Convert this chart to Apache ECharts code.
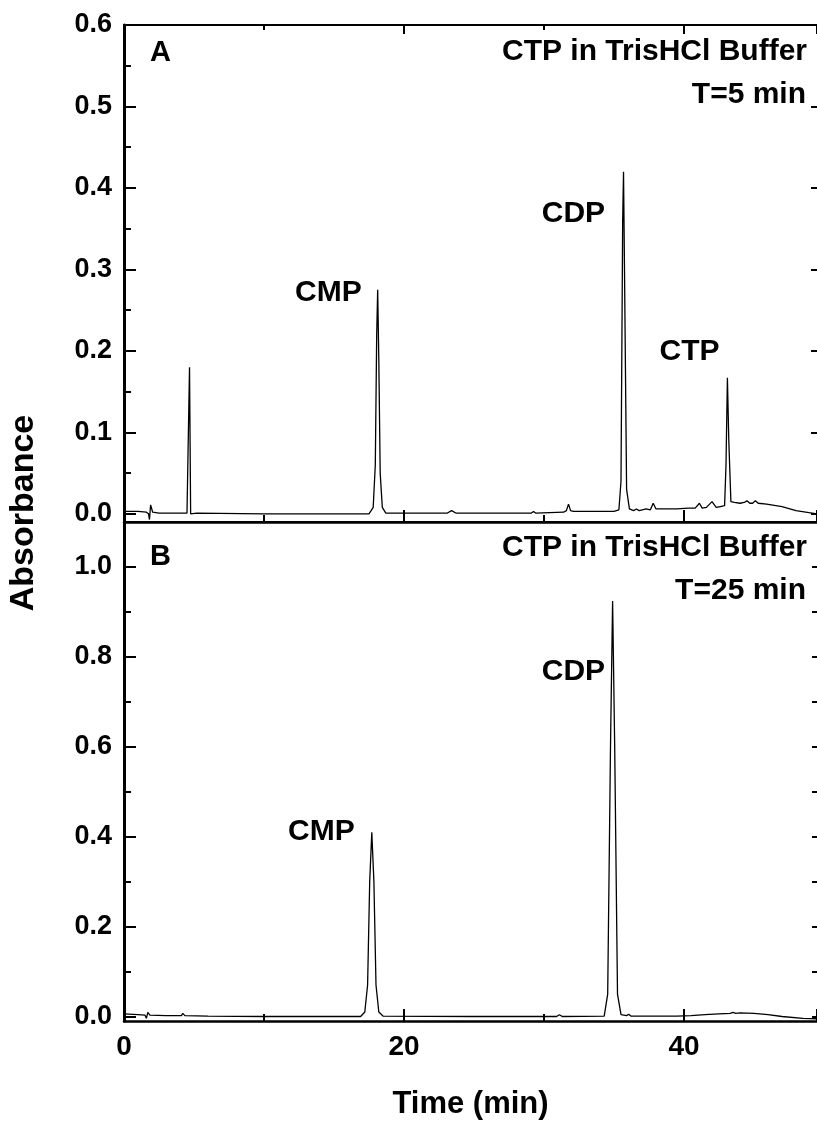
<!DOCTYPE html>
<html>
<head>
<meta charset="utf-8">
<script src="https://cdn.jsdelivr.net/npm/echarts@6/dist/echarts.min.js"></script>
<style>
  html, body { margin: 0; padding: 0; background: #fff; }
  #chart { width: 817px; height: 1130px; }
</style>
</head>
<body>
<div id="chart"></div>
<script>
// ---- Data ----
// Panel A: CTP in TrisHCl buffer, T = 5 min  ([time (min), absorbance])
const traceA = [
  [0, 0.003], [1.0, 0.003], [1.6, 0.002], [1.75, 0.0], [1.82, -0.007], [1.9, 0.011], [2.05, 0.002],
  [2.5, 0.001], [4.5, 0.001], [4.6, 0.0], [4.68, 0.18], [4.76, 0.0], [4.85, 0.001], [5.2, 0.001],
  [10, 0.0], [15, 0.0], [17.5, 0.0], [17.8, 0.008], [17.95, 0.06], [18.05, 0.22], [18.12, 0.275],
  [18.2, 0.19], [18.3, 0.05], [18.45, 0.008], [18.7, 0.001], [20, 0.001], [23.1, 0.001],
  [23.4, 0.004], [23.7, 0.001], [28, 0.001], [29.1, 0.001], [29.25, 0.003], [29.4, 0.001],
  [31.4, 0.002], [31.6, 0.004], [31.75, 0.012], [31.9, 0.004], [32.1, 0.003], [35.0, 0.003],
  [35.35, 0.005], [35.5, 0.04], [35.62, 0.36], [35.68, 0.42], [35.75, 0.3], [35.9, 0.03],
  [36.1, 0.006], [36.4, 0.004], [36.6, 0.006], [36.8, 0.004], [37.3, 0.006], [37.6, 0.005],
  [37.8, 0.013], [38.0, 0.006], [38.5, 0.006], [39.5, 0.006], [40.3, 0.007], [40.8, 0.007],
  [41.1, 0.013], [41.3, 0.007], [41.6, 0.008], [42.0, 0.015], [42.3, 0.008], [42.6, 0.009],
  [42.9, 0.01], [43.0, 0.06], [43.1, 0.167], [43.2, 0.09], [43.35, 0.015], [43.6, 0.014],
  [44.0, 0.013], [44.3, 0.014], [44.5, 0.016], [44.7, 0.013], [44.9, 0.013], [45.1, 0.016],
  [45.3, 0.013], [45.9, 0.012], [47, 0.009], [48, 0.004], [49.5, 0.0]
];
// Panel B: CTP in TrisHCl buffer, T = 25 min
const traceB = [
  [0, 0.006], [1.0, 0.004], [1.5, 0.003], [1.6, -0.004], [1.7, 0.009], [1.85, 0.003], [3, 0.002],
  [4.1, 0.002], [4.2, 0.007], [4.35, 0.002], [6, 0.001], [10, 0.0], [16.9, 0.0], [17.2, 0.01],
  [17.4, 0.07], [17.55, 0.3], [17.7, 0.41], [17.85, 0.3], [18.0, 0.07], [18.2, 0.01],
  [18.5, 0.001], [25, 0.0], [30.9, 0.0], [31.1, 0.004], [31.3, 0.0], [34.3, 0.001],
  [34.55, 0.05], [34.75, 0.6], [34.9, 0.924], [35.05, 0.6], [35.25, 0.05], [35.5, 0.004],
  [35.9, 0.002], [36.05, 0.005], [36.2, 0.001], [39.5, 0.001], [40.5, 0.002], [41.5, 0.004],
  [42.5, 0.006], [43.3, 0.007], [43.5, 0.009], [43.7, 0.007], [44.0, 0.008], [45.0, 0.007],
  [46, 0.004], [47, 0.0], [48.5, -0.004], [49.5, -0.005]
];
// Peak annotations: [time, absorbance, label]
const peaksA = [[14.6, 0.271, 'CMP'], [32.1, 0.368, 'CDP'], [40.4, 0.199, 'CTP']];
const peaksB = [[14.1, 0.41, 'CMP'], [32.1, 0.768, 'CDP']];
// Axis ticks
const xRange = [0, 49.5];
const xLabels = [0, 20, 40];
const yRangeA = [-0.01, 0.6];
const yRangeB = [-0.01, 1.1];
const yMajorA = [0, 0.1, 0.2, 0.3, 0.4, 0.5, 0.6];
const yMinorA = [0.05, 0.15, 0.25, 0.35, 0.45, 0.55];
const yMajorB = [0, 0.2, 0.4, 0.6, 0.8, 1.0];
const yMinorB = [0.1, 0.3, 0.5, 0.7, 0.9];
const yRightB = [0, 0.1, 0.2, 0.3, 0.4, 0.5, 0.6, 0.7, 0.8, 0.9, 1.0];
const panelTitles = [['A', 'CTP in TrisHCl Buffer', 'T=5 min'], ['B', 'CTP in TrisHCl Buffer', 'T=25 min']];

const FONT = "'Liberation Sans', Arial, Helvetica, sans-serif";
const BLACK = '#000';

function xAx(grid, pos, opts) {
  return Object.assign({
    type: 'value', gridIndex: grid, position: pos, min: xRange[0], max: xRange[1], interval: 20,
    axisLine: { show: true, onZero: false, lineStyle: { color: BLACK, width: 2.5 } },
    axisTick: { show: true, inside: true, length: 12, lineStyle: { color: BLACK, width: 2 } },
    minorTick: { show: true, splitNumber: 2, length: 7, lineStyle: { color: BLACK, width: 2 } },
    axisLabel: { show: false },
    splitLine: { show: false }, minorSplitLine: { show: false }
  }, opts || {});
}
function yAx(grid, range, pos, ticks, len, labels, line) {
  return {
    type: 'value', gridIndex: grid, position: pos, min: range[0], max: range[1],
    axisLine: { show: !!line, onZero: false, lineStyle: { color: BLACK, width: 3 } },
    axisTick: { show: true, inside: true, length: len, customValues: ticks, lineStyle: { color: BLACK, width: 2 } },
    axisLabel: labels ? {
      show: true, customValues: ticks, margin: 12, color: BLACK,
      fontFamily: FONT, fontWeight: 'bold', fontSize: 27,
      formatter: v => v.toFixed(1)
    } : { show: false },
    splitLine: { show: false }
  };
}

const chart = echarts.init(document.getElementById('chart'), null, { renderer: 'canvas' });

const graphics = [];
const titleY = [[53, 52, 95], [557, 548, 591]];
panelTitles.forEach((t, i) => {
  graphics.push({ type: 'text', x: 150, y: titleY[i][0], style: { text: t[0], fill: BLACK, font: `bold 29px ${FONT}`, align: 'left', verticalAlign: 'middle' } });
  graphics.push({ type: 'text', x: 807, y: titleY[i][1], style: { text: t[1], fill: BLACK, font: `bold 30px ${FONT}`, align: 'right', verticalAlign: 'middle' } });
  graphics.push({ type: 'text', x: 806, y: titleY[i][2], style: { text: t[2], fill: BLACK, font: `bold 30px ${FONT}`, align: 'right', verticalAlign: 'middle' } });
});
graphics.push({ type: 'text', x: 24, y: 513, rotation: Math.PI / 2,
  style: { text: 'Absorbance', fill: BLACK, font: `bold 34px ${FONT}`, align: 'center', verticalAlign: 'middle' } });

function peakSeries(xi, yi, peaks) {
  return {
    type: 'scatter', xAxisIndex: xi, yAxisIndex: yi, symbolSize: 0, silent: true, z: 10,
    itemStyle: { opacity: 1, color: BLACK },
    data: peaks.map(p => ({ value: [p[0], p[1]], name: p[2] })),
    label: { show: true, position: 'inside', formatter: '{b}', color: BLACK, opacity: 1,
      textBorderWidth: 0, fontFamily: FONT, fontWeight: 'bold', fontSize: 30 }
  };
}

chart.setOption({
  animation: false,
  backgroundColor: '#fff',
  grid: [
    { left: 124, top: 25, width: 693, height: 497, containLabel: false, outerBoundsMode: 'none' },
    { left: 124, top: 522, width: 693, height: 499, containLabel: false, outerBoundsMode: 'none' }
  ],
  xAxis: [
    xAx(0, 'bottom'),
    xAx(0, 'top', { axisLine: { show: true, onZero: false, lineStyle: { color: BLACK, width: 2 } },
      axisTick: { show: true, inside: true, length: 9, lineStyle: { color: BLACK, width: 2 } },
      minorTick: { show: true, splitNumber: 2, length: 5, lineStyle: { color: BLACK, width: 2 } } }),
    xAx(1, 'bottom', {
      axisLabel: { show: true, customValues: xLabels, margin: 12, color: BLACK, fontFamily: FONT, fontWeight: 'bold', fontSize: 28 },
      name: 'Time (min)', nameLocation: 'middle', nameGap: 68,
      nameTextStyle: { color: BLACK, fontFamily: FONT, fontWeight: 'bold', fontSize: 31 }
    }),
    xAx(1, 'top', { axisTick: { show: false }, minorTick: { show: false },
      axisLine: { show: true, onZero: false, lineStyle: { color: BLACK, width: 2 } } })
  ],
  yAxis: [
    yAx(0, yRangeA, 'left', yMajorA, 12, true, true),
    yAx(0, yRangeA, 'left', yMinorA, 7, false, false),
    yAx(0, yRangeA, 'right', yMajorA, 6, false, false),
    yAx(1, yRangeB, 'left', yMajorB, 12, true, true),
    yAx(1, yRangeB, 'left', yMinorB, 7, false, false),
    yAx(1, yRangeB, 'right', yRightB, 5, false, false)
  ],
  graphic: graphics,
  series: [
    { type: 'line', xAxisIndex: 0, yAxisIndex: 0, data: traceA, showSymbol: false, symbol: 'none',
      lineStyle: { color: BLACK, width: 1.3 }, silent: true },
    { type: 'line', xAxisIndex: 2, yAxisIndex: 3, data: traceB, showSymbol: false, symbol: 'none',
      lineStyle: { color: BLACK, width: 1.3 }, silent: true },
    peakSeries(0, 0, peaksA),
    peakSeries(2, 3, peaksB)
  ]
});
</script>
</body>
</html>
